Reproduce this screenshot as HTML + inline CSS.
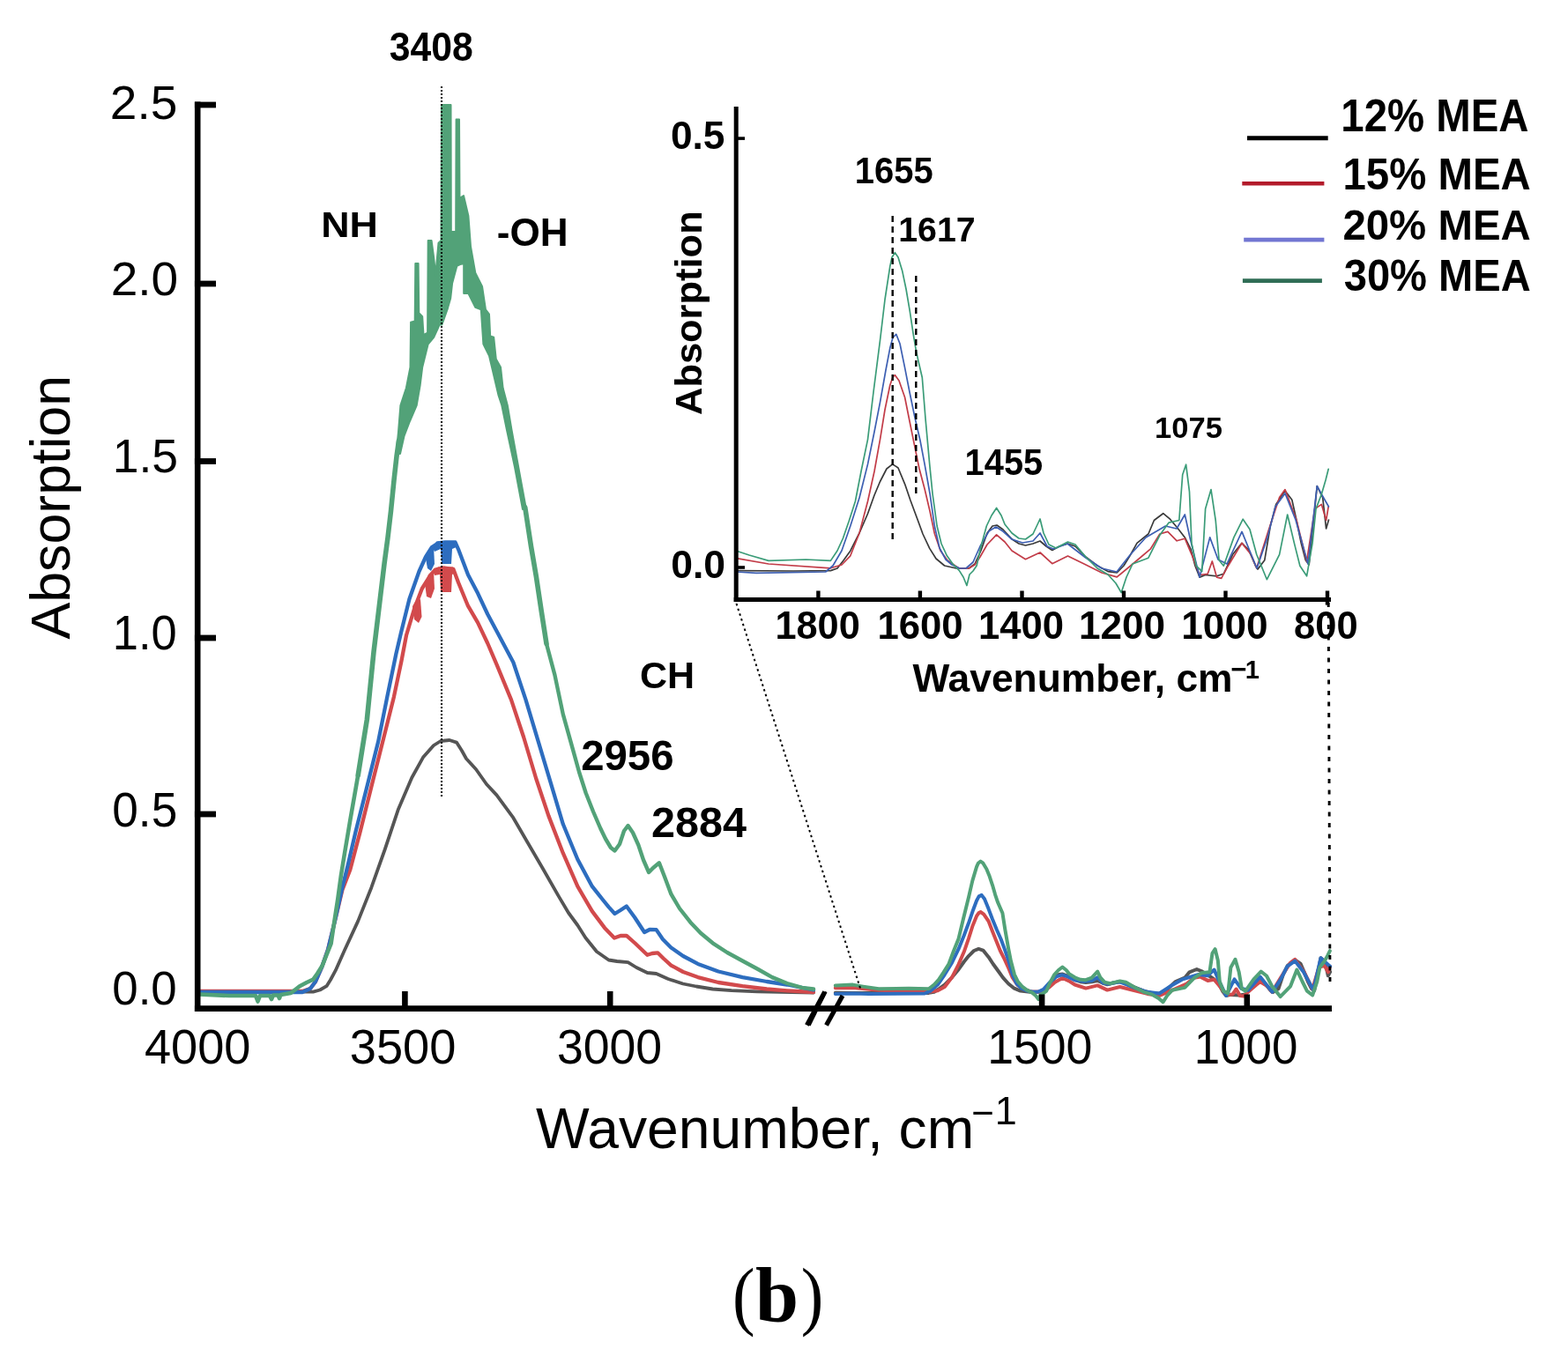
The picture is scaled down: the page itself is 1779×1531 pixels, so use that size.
<!DOCTYPE html>
<html><head><meta charset="utf-8"><title>FTIR spectra</title>
<style>html,body{margin:0;padding:0;background:#fff;}svg{display:block;}</style></head>
<body><svg width="1779" height="1531" viewBox="0 0 1779 1531">
<rect width="1779" height="1531" fill="#fff"/>
<polyline points="226.0,1125.0 300.0,1125.5 343.0,1125.5 355.3,1125.6 363.0,1123.5 370.5,1119.2 375.0,1112.0 380.7,1101.4 390.9,1078.5 406.2,1045.4 421.4,1007.2 436.7,964.0 452.0,918.2 467.3,882.5 480.0,859.6 492.0,846.0 500.0,841.0 510.0,840.0 518.0,842.6 524.0,852.0 529.0,861.0 540.0,873.0 552.0,890.0 563.5,902.4 582.4,928.2 598.8,956.5 615.3,984.7 634.1,1017.6 645.0,1036.0 655.3,1050.0 664.3,1064.2 677.0,1080.0 690.6,1089.5 700.0,1091.0 712.5,1092.2 722.0,1098.0 734.4,1104.0 744.6,1105.0 758.0,1111.0 774.9,1116.5 790.0,1119.5 808.6,1122.5 830.0,1124.2 859.2,1125.3 923.0,1126.5" fill="none" stroke="#555555" stroke-width="3.8" stroke-linejoin="round" stroke-linecap="round" />
<polyline points="226.0,1125.0 343.0,1125.0 352.0,1122.0 358.0,1114.0 365.0,1098.0 372.0,1078.0 380.0,1045.0 388.4,1010.0 397.3,986.9 408.7,943.6 421.4,892.7 434.2,841.8 446.9,790.9 455.5,750.0 461.0,721.0 470.0,691.0 478.8,668.0 488.8,652.2 494.0,646.5 503.0,644.4 514.4,646.0 520.0,661.0 531.0,687.7 542.1,706.6 553.2,730.0 563.5,754.1 580.0,794.1 594.1,836.5 608.2,883.5 622.4,925.9 638.8,968.2 655.3,1005.9 671.8,1034.1 685.9,1052.9 697.0,1064.5 704.0,1062.0 710.8,1061.9 720.0,1070.0 734.4,1083.8 740.0,1082.0 746.2,1081.3 753.0,1088.0 761.4,1095.6 775.0,1103.0 791.8,1109.1 815.0,1115.0 842.4,1119.2 870.0,1122.5 893.0,1124.3 923.0,1126.0" fill="none" stroke="#d24a4c" stroke-width="4.3" stroke-linejoin="round" stroke-linecap="round" />
<polyline points="226.0,1126.0 343.0,1126.0 352.0,1122.0 358.0,1114.0 365.0,1098.0 372.0,1078.0 380.0,1045.0 388.4,1007.2 394.7,981.8 403.6,943.6 416.4,892.7 429.1,841.8 439.3,790.9 449.4,742.0 455.0,718.0 464.4,680.0 475.5,648.5 483.0,632.0 490.0,621.0 497.0,616.5 505.0,615.5 516.6,615.5 520.0,623.3 531.0,652.2 542.1,673.3 553.2,697.0 564.3,717.7 582.4,751.8 596.5,794.1 610.6,841.2 624.7,888.2 638.8,935.3 655.3,975.3 671.8,1005.9 683.0,1020.0 690.6,1029.4 697.5,1037.0 704.0,1033.0 710.8,1028.5 720.0,1041.0 731.1,1058.0 737.0,1055.0 744.6,1055.1 752.0,1066.0 761.4,1075.4 775.0,1085.0 791.8,1093.9 815.0,1102.5 842.4,1109.1 870.0,1114.0 893.0,1117.5 923.0,1123.5" fill="none" stroke="#2d6dbf" stroke-width="4.3" stroke-linejoin="round" stroke-linecap="round" />
<polygon points="492.0,647.0 497.0,643.5 514.0,643.5 517.0,650.0 513.0,652.0 512.0,672.0 500.0,672.0 499.0,652.0 493.0,653.0" fill="#d24a4c" />
<polygon points="482.0,662.0 486.0,652.0 492.0,648.0 493.0,668.0 489.0,679.0 484.0,677.0" fill="#d24a4c" />
<polygon points="468.0,688.0 471.0,683.0 477.0,680.0 478.5,700.0 475.0,707.0 470.0,703.0" fill="#d24a4c" />
<polygon points="491.0,622.0 495.0,614.5 517.0,614.5 520.0,620.0 513.0,623.0 512.0,640.0 501.0,640.0 500.0,623.0 493.0,626.0" fill="#2d6dbf" />
<polygon points="483.0,634.0 487.0,625.0 492.0,620.0 493.0,640.0 489.0,648.0 485.0,645.0" fill="#2d6dbf" />
<polyline points="226.0,1128.5 260.0,1130.0 290.0,1130.0 292.5,1136.5 295.0,1130.0 306.0,1130.0 308.0,1134.0 310.0,1129.5 315.5,1129.5 317.0,1133.0 318.5,1129.0 330.0,1127.0 340.0,1119.2 348.0,1115.0 355.3,1111.6 360.0,1105.0 365.5,1096.3 370.0,1085.0 375.6,1070.9 379.0,1048.0 383.3,1020.0 387.0,993.0 390.9,969.0 397.3,930.9 406.2,880.0" fill="none" stroke="#52a278" stroke-width="4.6" stroke-linejoin="round" stroke-linecap="round" />
<polyline points="406.2,880.0 411.0,850.0 416.4,816.4 420.0,780.0 424.0,740.0 430.0,690.0 436.0,640.0 440.0,610.0 443.5,580.0 447.0,545.0 450.0,518.0 452.5,500.0" fill="none" stroke="#52a278" stroke-width="5.6" stroke-linejoin="round" stroke-linecap="round" />
<polygon points="449.5,515.0 452.0,490.0 454.4,460.0 460.9,440.3 465.5,416.7 466.1,365.8 470.7,364.5 471.3,299.0 474.6,299.0 475.3,355.3 479.2,359.3 480.5,380.2 485.1,377.6 485.7,273.1 489.6,273.1 492.2,292.7 494.2,312.2 497.5,275.7 500.5,273.0 501.0,119.0 511.5,119.0 511.8,263.0 517.2,263.0 517.6,135.5 521.0,135.5 521.5,225.0 526.0,222.0 531.4,245.0 534.0,279.6 539.3,309.6 547.1,325.3 551.0,351.4 555.0,356.7 556.2,381.5 560.2,382.8 562.8,407.6 568.0,416.7 570.6,440.3 575.8,460.0 580.5,488.0 590.0,540.0 597.0,578.0 593.0,578.0 584.0,530.0 575.0,488.0 569.3,460.0 565.4,448.1 560.0,425.0 555.0,403.7 548.4,390.6 545.8,351.4 539.3,348.8 531.4,333.1 526.2,333.1 526.2,299.2 522.0,300.0 518.4,301.8 513.1,321.4 511.2,338.4 507.9,350.1 501.4,368.4 498.8,368.4 492.2,382.8 485.7,390.6 479.2,416.7 476.6,437.6 472.7,460.0 465.0,478.0 458.5,495.0 454.0,515.0" fill="#52a278" stroke="#52a278" stroke-width="2" stroke-linejoin="round"/>
<polyline points="595.7,575.7 602.5,620.0 608.4,654.5 614.0,692.0 620.0,730.6" fill="none" stroke="#52a278" stroke-width="5.6" stroke-linejoin="round" stroke-linecap="round" />
<polyline points="620.0,730.6 629.4,765.9 638.8,810.6 650.6,852.9 657.0,876.0 664.7,900.0 673.0,921.0 681.2,940.0 687.0,952.0 693.0,962.0 697.5,965.5 703.0,958.0 708.0,943.0 712.5,937.1 718.0,945.0 724.3,959.0 730.0,976.0 736.1,990.0 741.0,985.0 747.9,979.3 754.0,995.0 761.4,1014.7 771.0,1031.0 783.3,1046.7 795.0,1059.0 808.6,1070.3 825.0,1081.0 842.4,1090.5 860.0,1100.0 876.1,1109.1 893.0,1116.0 909.8,1120.9 923.0,1122.5" fill="none" stroke="#52a278" stroke-width="4.4" stroke-linejoin="round" stroke-linecap="round" />
<polyline points="947.8,1126.7 967.6,1126.9 1019.5,1127.1 1053.7,1126.9 1059.8,1125.8 1065.5,1122.1 1071.8,1117.6 1080.0,1109.3 1087.6,1100.2 1093.7,1091.5 1098.9,1085.1 1105.0,1079.0 1110.3,1076.9 1115.4,1078.6 1121.6,1086.2 1126.7,1094.0 1132.9,1102.5 1138.0,1109.7 1144.2,1116.5 1150.1,1121.3 1157.8,1124.6 1168.6,1125.8 1180.5,1125.7 1185.5,1123.8 1191.1,1117.5 1196.8,1109.3 1201.7,1106.0 1205.7,1105.5 1211.3,1107.6 1219.6,1112.2 1225.8,1114.2 1231.9,1115.1 1238.7,1114.2 1245.2,1113.0 1250.8,1115.5 1256.3,1117.3 1262.9,1115.5 1270.6,1114.2 1277.4,1115.5 1286.9,1120.4 1297.6,1124.6 1307.2,1127.3 1315.5,1127.8 1321.7,1124.6 1327.7,1119.6 1333.8,1114.0 1344.2,1109.7 1349.5,1103.3 1357.8,1100.0 1364.1,1102.7 1370.3,1106.5 1377.6,1111.3 1382.8,1116.6 1387.0,1124.7 1391.1,1130.0 1396.4,1128.9 1406.8,1129.5 1413.1,1128.4 1421.4,1119.3 1429.7,1114.0 1435.9,1117.2 1442.2,1124.7 1444.2,1126.2 1450.5,1122.0 1455.8,1106.0 1460.9,1095.8 1469.2,1089.4 1475.5,1093.6 1479.7,1103.3 1483.9,1114.0 1488.0,1122.0 1491.2,1124.1 1494.3,1108.6 1498.5,1087.2 1503.6,1092.5 1506.8,1107.2 1509.1,1103.1" fill="none" stroke="#555555" stroke-width="4.0" stroke-linejoin="round" stroke-linecap="round" />
<polyline points="947.8,1121.3 967.6,1121.1 997.0,1123.8 1053.7,1125.7 1063.9,1124.2 1071.8,1120.0 1080.0,1109.3 1087.6,1094.4 1093.7,1080.3 1098.9,1065.3 1103.3,1051.3 1108.0,1039.7 1110.6,1036.0 1112.5,1035.0 1116.2,1037.6 1121.6,1045.5 1125.9,1056.7 1130.7,1068.8 1134.8,1079.0 1139.7,1088.6 1144.4,1098.9 1148.7,1109.5 1154.1,1117.5 1160.6,1122.1 1171.0,1125.8 1179.9,1125.8 1185.5,1124.2 1190.4,1120.4 1196.8,1114.7 1205.4,1110.0 1212.9,1113.4 1219.4,1117.5 1231.9,1121.6 1245.2,1118.4 1256.3,1123.6 1270.6,1120.0 1285.5,1123.8 1301.6,1127.9 1315.5,1129.9 1333.8,1122.1 1346.3,1116.6 1354.7,1109.7 1362.0,1108.6 1370.3,1112.9 1377.6,1111.8 1383.8,1119.3 1391.1,1128.9 1398.5,1128.4 1402.6,1122.5 1406.8,1130.0 1411.0,1130.5 1417.2,1124.7 1429.7,1114.0 1438.0,1119.3 1443.2,1125.7 1453.7,1108.6 1464.1,1092.5 1469.2,1088.8 1479.7,1103.3 1489.1,1122.5 1496.4,1097.9 1502.6,1095.8 1506.8,1103.3 1508.9,1096.8" fill="none" stroke="#d24a4c" stroke-width="4.0" stroke-linejoin="round" stroke-linecap="round" />
<polyline points="947.8,1127.9 967.6,1127.5 985.7,1128.1 1049.1,1127.5 1055.8,1124.6 1063.9,1117.5 1071.8,1106.0 1080.0,1092.7 1087.6,1076.9 1093.7,1061.7 1098.9,1047.8 1104.1,1032.7 1108.0,1022.2 1110.6,1017.4 1113.7,1015.9 1117.0,1020.3 1121.6,1031.6 1125.9,1043.0 1130.7,1054.8 1135.6,1065.8 1139.7,1076.9 1144.4,1090.6 1148.7,1106.0 1153.3,1116.3 1159.0,1121.7 1164.6,1124.2 1171.4,1125.7 1177.5,1125.8 1183.9,1122.9 1190.4,1115.5 1198.5,1108.3 1204.9,1106.4 1211.3,1108.4 1219.4,1112.2 1229.1,1113.8 1238.7,1113.0 1245.2,1109.3 1251.6,1115.5 1257.3,1116.7 1270.2,1114.2 1286.9,1120.9 1301.6,1125.8 1315.3,1127.5 1327.4,1119.6 1341.9,1111.3 1359.9,1106.0 1370.1,1107.2 1377.6,1100.6 1382.2,1111.3 1391.1,1130.0 1400.5,1111.3 1408.0,1121.7 1416.0,1123.8 1429.7,1108.6 1443.4,1125.8 1453.1,1111.3 1460.4,1096.8 1469.2,1090.6 1478.9,1103.1 1490.2,1123.8 1498.5,1087.2 1503.1,1091.5 1509.1,1096.8" fill="none" stroke="#2d6dbf" stroke-width="4.0" stroke-linejoin="round" stroke-linecap="round" />
<polyline points="947.8,1118.4 967.6,1117.6 979.2,1119.6 997.0,1122.3 1031.1,1121.7 1053.7,1122.3 1059.8,1117.5 1065.0,1111.8 1070.3,1103.9 1076.3,1094.4 1081.6,1080.3 1087.6,1065.3 1092.9,1043.0 1098.9,1018.8 1103.3,999.6 1108.0,983.9 1109.8,979.7 1112.5,977.5 1115.4,979.7 1119.3,986.2 1122.7,994.6 1126.1,1004.8 1129.1,1015.3 1131.8,1023.4 1134.0,1028.5 1137.4,1036.2 1140.4,1055.4 1144.2,1076.9 1146.9,1090.6 1151.0,1106.0 1154.9,1114.2 1160.1,1120.0 1165.4,1123.8 1171.4,1126.9 1175.1,1130.0 1178.2,1133.9 1180.7,1128.7 1183.9,1127.1 1187.2,1124.6 1191.2,1115.5 1196.3,1106.0 1200.9,1101.0 1205.4,1097.5 1209.7,1101.0 1212.9,1105.1 1219.4,1109.3 1225.8,1111.8 1231.9,1112.2 1238.7,1109.7 1245.2,1102.6 1248.4,1109.3 1253.2,1114.7 1259.7,1116.3 1270.6,1113.4 1277.4,1114.7 1286.9,1120.4 1297.6,1125.8 1307.2,1128.7 1314.5,1132.9 1319.5,1137.3 1324.2,1130.0 1329.8,1123.8 1344.2,1120.9 1354.7,1110.2 1363.0,1104.3 1372.4,1103.3 1375.5,1081.9 1378.6,1077.1 1381.8,1089.9 1383.8,1114.0 1388.0,1124.7 1393.2,1127.4 1396.4,1097.9 1401.5,1088.8 1405.7,1103.3 1408.9,1122.0 1413.1,1124.7 1422.4,1111.3 1430.7,1102.7 1437.0,1107.5 1443.2,1119.3 1452.6,1131.1 1464.1,1119.3 1471.4,1100.6 1477.6,1114.0 1482.9,1124.7 1489.1,1129.5 1494.3,1114.0 1497.4,1097.9 1502.6,1091.0 1506.3,1084.4 1508.9,1079.2" fill="none" stroke="#52a278" stroke-width="4.0" stroke-linejoin="round" stroke-linecap="round" />
<polyline points="835.6,647.6 900.0,648.0 942.4,647.6 950.0,645.0 957.0,636.0 964.8,625.2 975.0,605.0 984.5,583.0 992.0,562.0 998.5,546.5 1006.0,532.0 1012.6,526.9 1019.0,531.0 1026.6,549.3 1033.0,568.0 1040.7,588.7 1047.0,606.0 1054.7,622.4 1062.0,634.0 1071.6,642.0 1085.0,645.0 1099.7,644.8 1106.0,640.0 1112.9,625.0 1120.0,605.0 1126.0,597.0 1131.0,596.0 1138.0,601.0 1148.3,612.0 1156.0,617.0 1163.5,619.0 1172.0,617.0 1180.0,614.0 1187.0,620.0 1193.8,624.5 1202.0,620.0 1211.5,617.0 1220.0,620.0 1231.8,632.0 1245.0,642.0 1257.0,648.6 1267.2,649.8 1275.0,642.0 1282.4,630.0 1290.0,616.4 1302.9,606.0 1309.4,590.5 1319.7,582.7 1327.5,589.2 1335.2,598.3 1344.3,609.9 1350.8,622.8 1356.0,642.2 1361.1,655.1 1367.6,652.5 1380.5,653.8 1388.3,651.3 1398.6,629.3 1409.0,616.4 1416.7,624.1 1424.5,642.2 1427.0,646.0 1434.8,635.7 1441.3,597.0 1447.7,572.4 1458.0,556.9 1465.8,567.2 1471.0,590.5 1476.2,616.4 1481.3,635.7 1485.2,640.9 1489.1,603.4 1494.3,551.7 1500.7,564.6 1504.6,600.0 1507.5,590.0" fill="none" stroke="#3a3a3a" stroke-width="1.7" stroke-linejoin="round" stroke-linecap="round" />
<polyline points="835.6,633.6 872.0,640.0 942.4,644.8 955.0,641.0 964.8,630.8 975.0,605.0 984.5,569.0 992.0,535.0 998.5,498.8 1004.0,465.0 1009.8,437.0 1013.0,428.0 1015.4,425.7 1020.0,432.0 1026.6,451.0 1032.0,478.0 1037.9,507.2 1043.0,532.0 1049.1,555.0 1055.0,580.0 1060.3,605.5 1067.0,625.0 1075.0,636.0 1088.0,645.0 1099.0,645.0 1106.0,641.0 1112.0,632.0 1120.0,618.0 1130.6,606.8 1140.0,615.0 1148.0,625.0 1163.5,634.7 1180.0,627.0 1193.8,639.7 1211.5,631.0 1230.0,640.0 1250.0,650.0 1267.2,654.9 1290.0,636.0 1305.5,622.8 1315.9,606.0 1324.9,603.4 1335.2,613.8 1344.3,611.2 1352.0,629.3 1361.1,652.5 1370.2,651.3 1375.3,637.0 1380.5,655.1 1385.7,656.4 1393.4,642.2 1409.0,616.4 1419.3,629.3 1425.7,644.8 1438.7,603.4 1451.6,564.6 1458.0,555.6 1471.0,590.5 1482.6,637.0 1491.7,577.6 1499.4,572.4 1504.6,590.5 1507.2,575.0" fill="none" stroke="#c23c48" stroke-width="1.7" stroke-linejoin="round" stroke-linecap="round" />
<polyline points="835.6,649.0 858.0,650.4 936.7,649.0 945.0,642.0 955.0,625.0 964.8,597.0 975.0,565.0 984.5,526.9 992.0,490.0 998.5,456.6 1005.0,420.0 1009.8,394.8 1013.0,383.0 1016.8,379.4 1021.0,390.0 1026.6,417.3 1032.0,445.0 1037.9,473.5 1044.0,500.0 1049.1,526.9 1055.0,560.0 1060.3,597.0 1066.0,622.0 1073.0,635.0 1080.0,641.0 1088.4,644.8 1096.0,645.0 1104.0,638.0 1112.0,620.0 1122.1,602.7 1130.0,598.0 1138.0,603.0 1148.0,612.0 1160.0,616.0 1172.0,614.0 1180.0,605.0 1188.0,620.0 1195.0,623.0 1211.0,617.0 1231.8,633.0 1250.0,645.0 1267.0,649.0 1282.0,630.0 1300.0,610.0 1322.3,597.0 1335.0,600.0 1344.3,584.0 1350.0,610.0 1361.0,655.0 1372.7,609.9 1382.0,635.0 1392.0,640.0 1409.0,603.4 1426.0,645.0 1438.0,610.0 1447.0,575.0 1458.0,560.0 1470.0,590.0 1484.0,640.0 1494.3,551.7 1500.0,562.0 1507.5,575.0" fill="none" stroke="#3d5fb2" stroke-width="1.7" stroke-linejoin="round" stroke-linecap="round" />
<polyline points="835.6,625.2 850.0,630.0 872.0,636.4 914.3,635.0 942.4,636.4 950.0,625.0 956.4,611.0 963.0,592.0 970.4,569.0 977.0,535.0 984.5,498.8 991.0,445.0 998.5,386.4 1004.0,340.0 1009.8,302.1 1012.0,292.0 1015.4,286.7 1019.0,292.0 1023.8,307.8 1028.0,328.0 1032.2,352.7 1036.0,378.0 1039.3,397.6 1042.0,410.0 1046.3,428.5 1050.0,475.0 1054.7,526.9 1058.0,560.0 1063.1,597.0 1068.0,617.0 1074.4,630.8 1081.0,640.0 1088.4,647.6 1093.0,655.0 1096.9,664.5 1100.0,652.0 1104.0,648.0 1108.1,642.0 1113.0,620.0 1119.3,597.0 1125.0,585.0 1130.6,576.5 1136.0,585.0 1140.0,595.0 1148.0,605.0 1156.0,611.0 1163.5,612.0 1172.0,606.0 1180.0,589.0 1184.0,605.0 1190.0,618.0 1198.0,622.0 1211.5,615.0 1220.0,618.0 1231.8,632.0 1245.0,645.0 1257.0,652.0 1266.0,662.0 1272.2,672.6 1278.0,655.0 1285.0,640.0 1302.9,633.2 1315.9,607.3 1326.2,593.1 1337.8,590.5 1341.7,538.8 1345.6,527.2 1349.5,558.2 1352.0,616.4 1357.2,642.2 1363.7,648.7 1367.6,577.6 1374.0,555.6 1379.2,590.5 1383.1,635.7 1388.3,642.2 1399.9,609.9 1410.2,589.2 1418.0,600.8 1425.7,629.3 1437.4,657.7 1451.6,629.3 1460.7,584.0 1468.4,616.4 1474.9,642.2 1482.6,653.8 1489.1,616.4 1493.0,577.6 1499.4,560.8 1504.0,545.0 1507.2,532.3" fill="none" stroke="#3b9c78" stroke-width="1.7" stroke-linejoin="round" stroke-linecap="round" />
<line x1="224.2" y1="115.5" x2="224.2" y2="1147.8999999999999" stroke="#000" stroke-width="6.6"/>
<line x1="220.89999999999998" y1="1144.6" x2="1511" y2="1144.6" stroke="#000" stroke-width="6.6"/>
<line x1="220.89999999999998" y1="119.0" x2="245" y2="119.0" stroke="#000" stroke-width="6.8"/>
<line x1="220.89999999999998" y1="322.0" x2="245" y2="322.0" stroke="#000" stroke-width="6.8"/>
<line x1="220.89999999999998" y1="523.5" x2="245" y2="523.5" stroke="#000" stroke-width="6.8"/>
<line x1="220.89999999999998" y1="724.0" x2="245" y2="724.0" stroke="#000" stroke-width="6.8"/>
<line x1="220.89999999999998" y1="924.0" x2="245" y2="924.0" stroke="#000" stroke-width="6.8"/>
<line x1="459.4" y1="1125" x2="459.4" y2="1144.6" stroke="#000" stroke-width="6.6"/>
<line x1="692.2" y1="1125" x2="692.2" y2="1144.6" stroke="#000" stroke-width="6.6"/>
<line x1="1182.1" y1="1128.5" x2="1182.1" y2="1144.6" stroke="#000" stroke-width="6.6"/>
<line x1="1414.8" y1="1128.5" x2="1414.8" y2="1144.6" stroke="#000" stroke-width="6.6"/>
<polygon points="917,1163 936,1125 938.5,1126 919.5,1164.5" fill="#000"/>
<path d="M915.5,1163.5 L935.8,1125.5" stroke="#000" stroke-width="5.2" stroke-linecap="butt"/>
<path d="M937.5,1163.5 L956,1130" stroke="#000" stroke-width="5.2" stroke-linecap="butt"/>
<text x="124.8" y="135.0" font-family="Liberation Sans, Arial, sans-serif" font-size="52.82" textLength="76.5" lengthAdjust="spacingAndGlyphs">2.5</text>
<text x="125.7" y="335.3" font-family="Liberation Sans, Arial, sans-serif" font-size="53.80" textLength="76.5" lengthAdjust="spacingAndGlyphs">2.0</text>
<text x="127.7" y="536.0" font-family="Liberation Sans, Arial, sans-serif" font-size="54.29" textLength="74.4" lengthAdjust="spacingAndGlyphs">1.5</text>
<text x="127.8" y="736.9" font-family="Liberation Sans, Arial, sans-serif" font-size="54.79" textLength="72.9" lengthAdjust="spacingAndGlyphs">1.0</text>
<text x="127.3" y="937.8" font-family="Liberation Sans, Arial, sans-serif" font-size="54.65" textLength="73.9" lengthAdjust="spacingAndGlyphs">0.5</text>
<text x="127.3" y="1140.4" font-family="Liberation Sans, Arial, sans-serif" font-size="54.08" textLength="73.4" lengthAdjust="spacingAndGlyphs">0.0</text>
<text x="163.9" y="1206.6" font-family="Liberation Sans, Arial, sans-serif" font-size="55.21" textLength="120.5" lengthAdjust="spacingAndGlyphs">4000</text>
<text x="396.8" y="1206.6" font-family="Liberation Sans, Arial, sans-serif" font-size="55.21" textLength="120.6" lengthAdjust="spacingAndGlyphs">3500</text>
<text x="631.9" y="1206.6" font-family="Liberation Sans, Arial, sans-serif" font-size="55.21" textLength="119.2" lengthAdjust="spacingAndGlyphs">3000</text>
<text x="1120.2" y="1206.6" font-family="Liberation Sans, Arial, sans-serif" font-size="55.21" textLength="119.2" lengthAdjust="spacingAndGlyphs">1500</text>
<text x="1354.8" y="1206.6" font-family="Liberation Sans, Arial, sans-serif" font-size="55.21" textLength="117.6" lengthAdjust="spacingAndGlyphs">1000</text>
<text x="608.1" y="1302.8" font-family="Liberation Sans, Arial, sans-serif" font-size="65.50" textLength="497.1" lengthAdjust="spacingAndGlyphs">Wavenumber, cm</text>
<text x="1102.3" y="1278.2" font-family="Liberation Sans, Arial, sans-serif" font-size="44.00">−</text>
<text x="1128.7" y="1275.5" font-family="Liberation Sans, Arial, sans-serif" font-size="45.00">1</text>
<text x="0" y="0" font-family="Liberation Sans, Arial, sans-serif" font-size="63.29" transform="translate(78.8,725.6) rotate(-90)" textLength="299.7" lengthAdjust="spacingAndGlyphs">Absorption</text>
<text x="441.7" y="68.5" font-family="Liberation Sans, Arial, sans-serif" font-size="45.35" font-weight="bold" textLength="95.1" lengthAdjust="spacingAndGlyphs">3408</text>
<text x="364.2" y="268.9" font-family="Liberation Sans, Arial, sans-serif" font-size="41.01" font-weight="bold" textLength="64.7" lengthAdjust="spacingAndGlyphs">NH</text>
<text x="563.8" y="278.6" font-family="Liberation Sans, Arial, sans-serif" font-size="44.08" font-weight="bold">-OH</text>
<text x="725.9" y="780.7" font-family="Liberation Sans, Arial, sans-serif" font-size="42.39" font-weight="bold" textLength="62.2" lengthAdjust="spacingAndGlyphs">CH</text>
<text x="659.2" y="873.9" font-family="Liberation Sans, Arial, sans-serif" font-size="47.32" font-weight="bold">2956</text>
<text x="739.1" y="950.1" font-family="Liberation Sans, Arial, sans-serif" font-size="47.32" font-weight="bold" textLength="107.9" lengthAdjust="spacingAndGlyphs">2884</text>
<line x1="501" y1="98" x2="501" y2="905" stroke="#000" stroke-width="2" stroke-dasharray="2,2"/>
<line x1="835.2" y1="121" x2="835.2" y2="683.1" stroke="#000" stroke-width="5.0"/>
<line x1="832.7" y1="680.6" x2="1510" y2="680.6" stroke="#000" stroke-width="5.0"/>
<line x1="835.2" y1="157.1" x2="845" y2="157.1" stroke="#000" stroke-width="3.6"/>
<line x1="835.2" y1="644" x2="845" y2="644" stroke="#000" stroke-width="3.6"/>
<line x1="928.4" y1="670.5" x2="928.4" y2="680.6" stroke="#000" stroke-width="4.4"/>
<line x1="1043.9" y1="670.5" x2="1043.9" y2="680.6" stroke="#000" stroke-width="4.4"/>
<line x1="1159.5" y1="670.5" x2="1159.5" y2="680.6" stroke="#000" stroke-width="4.4"/>
<line x1="1275.0" y1="670.5" x2="1275.0" y2="680.6" stroke="#000" stroke-width="4.4"/>
<line x1="1390.5" y1="670.5" x2="1390.5" y2="680.6" stroke="#000" stroke-width="4.4"/>
<line x1="1506.0" y1="670.5" x2="1506.0" y2="686.6" stroke="#000" stroke-width="4.4"/>
<text x="760.9" y="168.5" font-family="Liberation Sans, Arial, sans-serif" font-size="44.51" font-weight="bold" textLength="61.5" lengthAdjust="spacingAndGlyphs">0.5</text>
<text x="761.2" y="655.7" font-family="Liberation Sans, Arial, sans-serif" font-size="44.51" font-weight="bold">0.0</text>
<text x="879.4" y="724.8" font-family="Liberation Sans, Arial, sans-serif" font-size="44.51" font-weight="bold" textLength="96.4" lengthAdjust="spacingAndGlyphs">1800</text>
<text x="995.4" y="724.8" font-family="Liberation Sans, Arial, sans-serif" font-size="44.51" font-weight="bold" textLength="97.3" lengthAdjust="spacingAndGlyphs">1600</text>
<text x="1110.0" y="724.8" font-family="Liberation Sans, Arial, sans-serif" font-size="44.51" font-weight="bold" textLength="97.0" lengthAdjust="spacingAndGlyphs">1400</text>
<text x="1223.9" y="724.8" font-family="Liberation Sans, Arial, sans-serif" font-size="44.51" font-weight="bold" textLength="98.1" lengthAdjust="spacingAndGlyphs">1200</text>
<text x="1340.3" y="724.8" font-family="Liberation Sans, Arial, sans-serif" font-size="44.51" font-weight="bold" textLength="98.2" lengthAdjust="spacingAndGlyphs">1000</text>
<text x="1468.0" y="724.8" font-family="Liberation Sans, Arial, sans-serif" font-size="44.51" font-weight="bold" textLength="72.6" lengthAdjust="spacingAndGlyphs">800</text>
<text x="0" y="0" font-family="Liberation Sans, Arial, sans-serif" font-size="42.33" transform="translate(795.8,471.0) rotate(-90)" font-weight="bold" textLength="231.7" lengthAdjust="spacingAndGlyphs">Absorption</text>
<text x="1035.4" y="785.3" font-family="Liberation Sans, Arial, sans-serif" font-size="44.00" font-weight="bold" textLength="363.1" lengthAdjust="spacingAndGlyphs">Wavenumber, cm</text>
<text x="1396.3" y="770.2" font-family="Liberation Sans, Arial, sans-serif" font-size="31.00" font-weight="bold">−</text>
<text x="1412.8" y="769.5" font-family="Liberation Sans, Arial, sans-serif" font-size="29.00" font-weight="bold">1</text>
<text x="969.8" y="208.4" font-family="Liberation Sans, Arial, sans-serif" font-size="42.11" font-weight="bold" textLength="89.0" lengthAdjust="spacingAndGlyphs">1655</text>
<text x="1019.2" y="274.2" font-family="Liberation Sans, Arial, sans-serif" font-size="38.59" font-weight="bold" textLength="87.5" lengthAdjust="spacingAndGlyphs">1617</text>
<text x="1094.6" y="538.7" font-family="Liberation Sans, Arial, sans-serif" font-size="42.43" font-weight="bold" textLength="88.7" lengthAdjust="spacingAndGlyphs">1455</text>
<text x="1310.1" y="496.9" font-family="Liberation Sans, Arial, sans-serif" font-size="33.10" font-weight="bold" textLength="76.9" lengthAdjust="spacingAndGlyphs">1075</text>
<line x1="1012.7" y1="245" x2="1012.7" y2="615" stroke="#000" stroke-width="2.4" stroke-dasharray="7,5"/>
<line x1="1039.3" y1="313" x2="1039.3" y2="565" stroke="#000" stroke-width="2.4" stroke-dasharray="7,5"/>
<line x1="835.5" y1="685" x2="976" y2="1121.5" stroke="#000" stroke-width="2" stroke-dasharray="2.5,3.5"/>
<line x1="1507.2" y1="684" x2="1509" y2="1116" stroke="#000" stroke-width="2.9" stroke-dasharray="5,7.5"/>
<line x1="1415" y1="156.8" x2="1506.7" y2="156.8" stroke="#000" stroke-width="4.9"/>
<line x1="1409.3" y1="208.2" x2="1502.4" y2="208.2" stroke="#b31b2b" stroke-width="4.6"/>
<line x1="1411.2" y1="272.1" x2="1502.4" y2="272.1" stroke="#7276d2" stroke-width="4.6"/>
<line x1="1409.9" y1="318.7" x2="1499.9" y2="318.7" stroke="#2f6d55" stroke-width="4.8"/>
<text x="1521.3" y="149.0" font-family="Liberation Sans, Arial, sans-serif" font-size="51.11" font-weight="bold" textLength="213.3" lengthAdjust="spacingAndGlyphs">12% MEA</text>
<text x="1523.5" y="214.7" font-family="Liberation Sans, Arial, sans-serif" font-size="50.70" font-weight="bold" textLength="213.3" lengthAdjust="spacingAndGlyphs">15% MEA</text>
<text x="1523.4" y="271.8" font-family="Liberation Sans, Arial, sans-serif" font-size="48.01" font-weight="bold" textLength="213.4" lengthAdjust="spacingAndGlyphs">20% MEA</text>
<text x="1524.7" y="330.2" font-family="Liberation Sans, Arial, sans-serif" font-size="49.99" font-weight="bold" textLength="212.1" lengthAdjust="spacingAndGlyphs">30% MEA</text>
<text x="830.9" y="1498.9" font-family="Liberation Serif, Times New Roman, serif" font-size="85.89" textLength="25.6" lengthAdjust="spacingAndGlyphs">(</text>
<text x="857.1" y="1499.8" font-family="Liberation Serif, Times New Roman, serif" font-size="89.83" font-weight="bold" textLength="49.1" lengthAdjust="spacingAndGlyphs">b</text>
<text x="908.7" y="1498.9" font-family="Liberation Serif, Times New Roman, serif" font-size="85.89" textLength="25.5" lengthAdjust="spacingAndGlyphs">)</text>
</svg></body></html>
